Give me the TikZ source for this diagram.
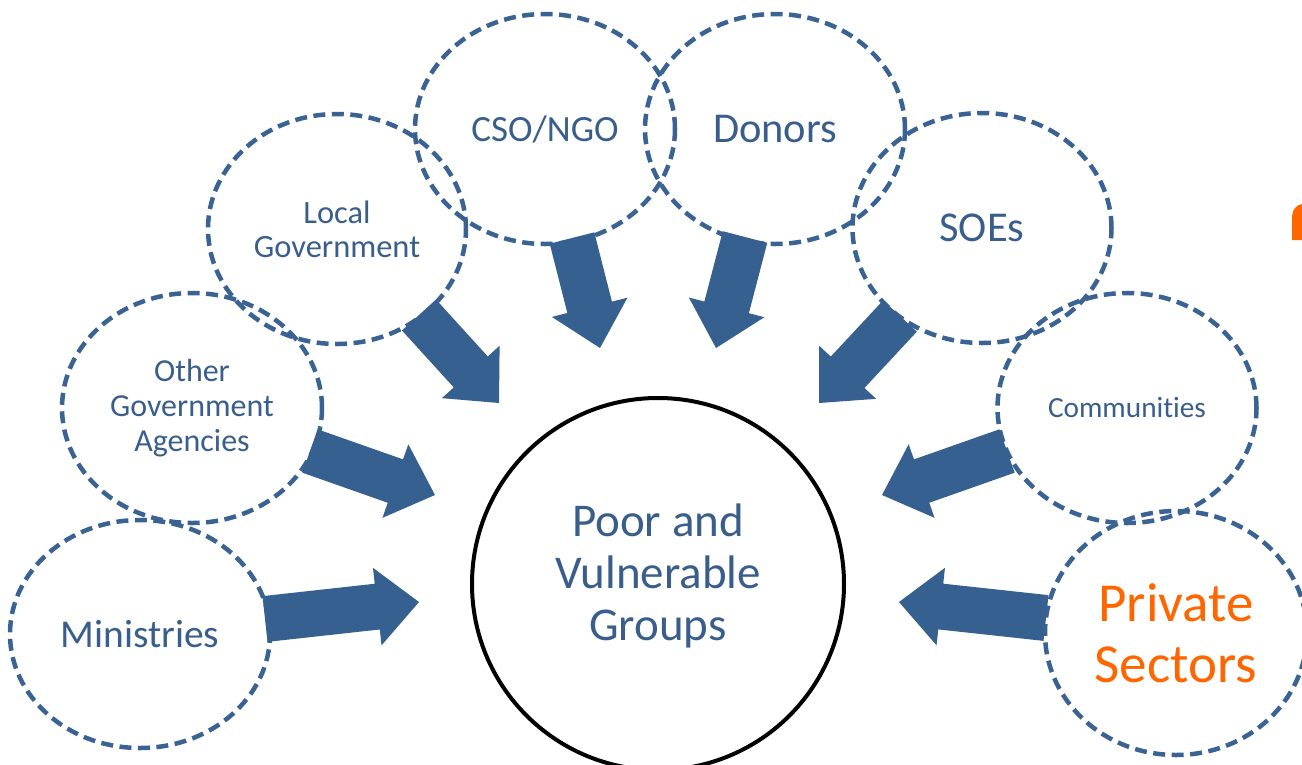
\documentclass[tikz,border=0pt]{standalone}
\usepackage{fontspec}
\setmainfont{Carlito}[Ligatures={NoCommon}]
\usetikzlibrary{calc,shapes.geometric}
\definecolor{arrowblue}{RGB}{54,96,143}
\definecolor{lineblue}{RGB}{58,98,146}
\definecolor{textblue}{RGB}{58,94,140}
\definecolor{orangetxt}{RGB}{255,102,0}
\tikzset{
  actor/.style={ellipse,draw=lineblue,line width=4.5pt,dash pattern=on 12pt off 6.5pt,
    inner sep=0pt,align=center,text=textblue},
  arrowfill/.style={fill=arrowblue},
}
\newcommand\blockarr[2]{%
  \coordinate (ah) at ($(#2)!42pt!(#1)$);
  \fill[arrowfill] ($(#1)!23pt!90:(#2)$) -- ($(ah)!23pt!90:(#2)$) -- ($(ah)!39pt!90:(#2)$) -- (#2)
    -- ($(ah)!39pt!-90:(#2)$) -- ($(ah)!23pt!-90:(#2)$) -- ($(#1)!23pt!-90:(#2)$) -- cycle;}
\begin{document}
\begin{tikzpicture}[x=1pt,y=-1pt]
\useasboundingbox (0,0) rectangle (1302,764);
% centre
\node[circle,draw=black,line width=4pt,minimum size=372pt,inner sep=0pt] (pvg) at (658,584) {};
\node[align=center,text=textblue,font=\fontsize{47}{52}\selectfont] (pvgt) at (658,576) {Poor and\\Vulnerable\\Groups};
% actors
\node[actor,minimum width=260pt,minimum height=228pt,font=\fontsize{39.5}{46}\selectfont] (min) at (140,634) {Ministries};
\node[actor,minimum width=260pt,minimum height=230pt,font=\fontsize{32}{35}\selectfont] (oga) at (192,408) {Other\\Government\\Agencies};
\node[actor,minimum width=258pt,minimum height=230pt,font=\fontsize{32.5}{34}\selectfont] (lg) at (337,229) {Local\\Government};
\node[actor,minimum width=260pt,minimum height=230pt,font=\fontsize{37}{44}\selectfont] (cso) at (545,129) {CSO/NGO};
\node[actor,minimum width=260pt,minimum height=230pt,font=\fontsize{42.5}{50}\selectfont] (don) at (775,129) {Donors};
\node[actor,minimum width=259pt,minimum height=230pt,font=\fontsize{42.5}{50}\selectfont] (soe) at (982,228) {SOEs};
\node[actor,minimum width=259pt,minimum height=230pt,font=\fontsize{29.3}{35}\selectfont] (com) at (1127,408) {Communities};
\node[actor,minimum width=262pt,minimum height=244pt,text=orangetxt,font=\fontsize{55}{61}\selectfont] (pri) at (1176,633) {Private\\Sectors};
% arrow ends
\coordinate (minA) at (265,619);  \coordinate (minB) at (419,602);
\coordinate (ogaA) at (310,451);  \coordinate (ogaB) at (435,495);
\coordinate (lgA) at (419,315);   \coordinate (lgB) at (499,403);
\coordinate (csoA) at (572,238);  \coordinate (csoB) at (600,348);
\coordinate (donA) at (745,237);  \coordinate (donB) at (716,348);
\coordinate (soeA) at (900,316);  \coordinate (soeB) at (819,403);
\coordinate (comA) at (1007,451); \coordinate (comB) at (882,495);
\coordinate (priA) at (1046,618); \coordinate (priB) at (899,602);
\blockarr{minA}{minB}
\blockarr{ogaA}{ogaB}
\blockarr{lgA}{lgB}
\blockarr{csoA}{csoB}
\blockarr{donA}{donB}
\blockarr{soeA}{soeB}
\blockarr{comA}{comB}
\blockarr{priA}{priB}
% partial orange glyph at right edge
\fill[orangetxt] (1292,240) -- (1292,217) .. controls (1292,210) and (1296,205) .. (1302,204) -- (1302,240) -- cycle;
\end{tikzpicture}
\end{document}
